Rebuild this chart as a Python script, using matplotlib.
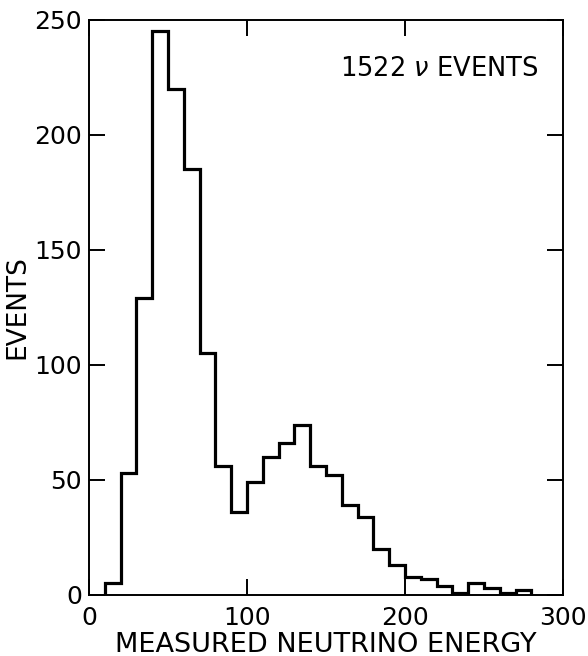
import matplotlib
matplotlib.use("Agg")
import matplotlib.pyplot as plt
import numpy as np

# Histogram of measured neutrino energy, 10-unit bins from 10 to 280
bin_edges = list(range(10, 290, 10))
counts = [5, 53, 129, 245, 220, 185, 105, 56, 36, 49, 60, 66, 74, 56,
          52, 39, 34, 20, 13, 8, 7, 4, 1, 5, 3, 1, 2]

x_ticks = [0, 100, 200, 300]
y_ticks = [0, 50, 100, 150, 200, 250]

plt.rcParams['font.family'] = ['DejaVu Sans']

fig = plt.figure(figsize=(5.88, 6.56), dpi=100)
ax = fig.add_axes([89 / 588, 61 / 656, 474 / 588, 575.5 / 656])

ax.stairs(counts, bin_edges, baseline=0, color='black', lw=2.3)

ax.set_xlim(0, 300)
ax.set_ylim(0, 250)
ax.set_xticks(x_ticks)
ax.set_yticks(y_ticks)
ax.tick_params(direction='in', length=11.5, width=1.4, top=True, right=True,
               labelsize=18, colors='black')
ax.tick_params(axis='x', pad=8)
ax.tick_params(axis='y', pad=5)
for s in ax.spines.values():
    s.set_linewidth(1.4)

ax.set_xlabel('MEASURED NEUTRINO ENERGY', fontsize=19.5, labelpad=1)
ax.set_ylabel('EVENTS', fontsize=19, labelpad=3)

ax.text(0.948, 0.914, '1522 $\\nu$ EVENTS', transform=ax.transAxes,
        ha='right', va='center', fontsize=18.5)

fig.savefig('out.png', dpi=100)
